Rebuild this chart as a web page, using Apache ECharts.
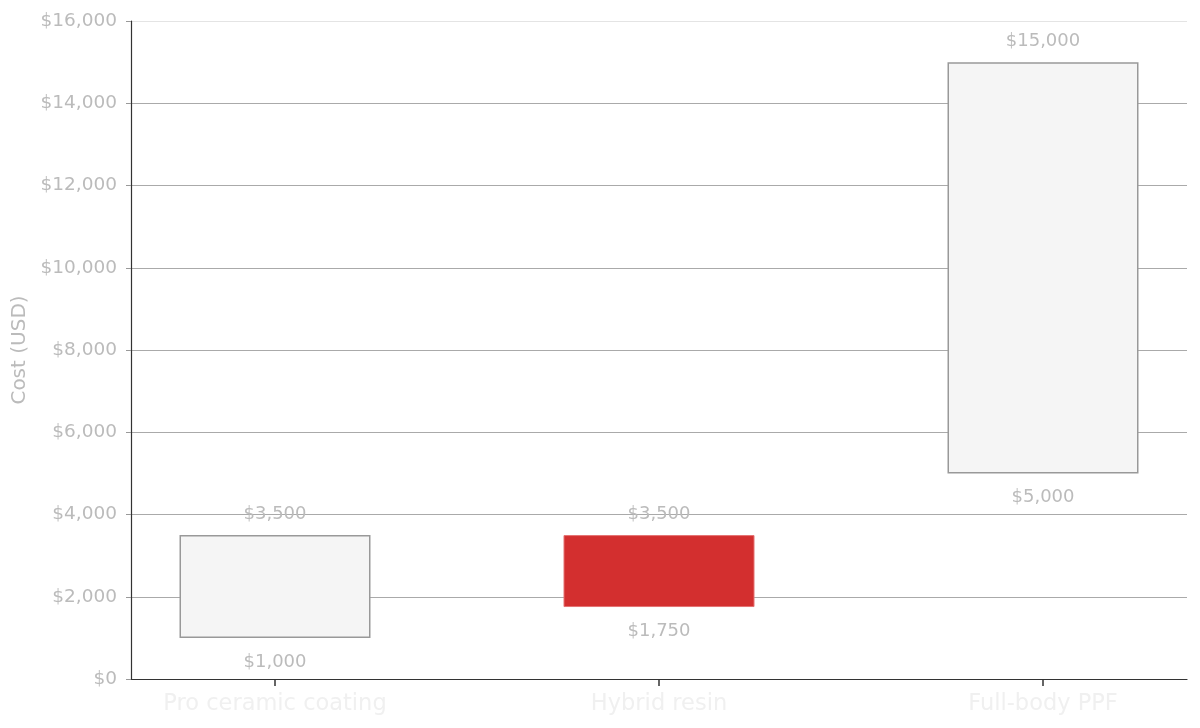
<!DOCTYPE html>
<html><head><meta charset="utf-8">
<script src="https://cdn.jsdelivr.net/npm/echarts@6/dist/echarts.min.js"></script>
<style>html,body{margin:0;padding:0;background:#fff}#c{width:1200px;height:728px}</style>
</head><body><div id="c"></div>
<script>
const categories = ['Pro ceramic coating', 'Hybrid resin', 'Full-body PPF'];
const lowValues = [1000, 1750, 5000];
const highValues = [3500, 3500, 15000];
const highlightIndex = 1;
const yTicks = [0, 2000, 4000, 6000, 8000, 10000, 12000, 14000, 16000];

// category slots: real categories sit at slot 1, 5, 9 of 11 (gives matplotlib-like side padding)
const slotOf = i => 1 + 4 * i;
const nSlots = 11;
const axisData = Array.from({ length: nSlots }, () => '');
categories.forEach((c, i) => { axisData[slotOf(i)] = c; });
const realSlots = categories.map((c, i) => slotOf(i));
const padded = arr => {
  const out = Array.from({ length: nSlots }, () => null);
  arr.forEach((v, i) => { out[slotOf(i)] = v; });
  return out;
};

const fmt = v => '$' + Number(v).toLocaleString('en-US');
const font = 'DejaVu Sans';
const gridColors = yTicks.map((t, i) => i === yTicks.length - 1 ? '#e4e4e4' : '#aaa');
const chart = echarts.init(document.getElementById('c'));
chart.setOption({
  animation: false,
  grid: { left: 131, right: 13, top: 21, bottom: 49 },
  xAxis: {
    type: 'category', data: axisData, boundaryGap: true,
    axisLine: { lineStyle: { color: '#333', width: 1.2 } },
    axisTick: { show: true, alignWithLabel: true, length: 7, customValues: realSlots, lineStyle: { color: '#333', width: 1.5 } },
    axisLabel: { color: '#f0f0f0', fontSize: 22.5, fontFamily: font, margin: 14, customValues: realSlots }
  },
  yAxis: {
    type: 'value', min: yTicks[0], max: yTicks[yTicks.length - 1], interval: 2000,
    name: 'Cost (USD)', nameLocation: 'middle', nameGap: 97,
    nameTextStyle: { color: '#bbb', fontSize: 20, fontFamily: font },
    axisLine: { show: true, lineStyle: { color: '#333', width: 1.2 } },
    axisTick: { show: true, length: 5, lineStyle: { color: '#999' } },
    axisLabel: { color: '#bbb', fontSize: 18.5, fontFamily: font, formatter: fmt, margin: 14 },
    splitLine: { lineStyle: { color: gridColors, width: 1 } }
  },
  series: [
    {
      type: 'bar', stack: 'r', barWidth: 191,
      data: padded(lowValues),
      itemStyle: { color: 'transparent' },
      label: {
        show: true, position: 'insideTop', distance: 15,
        formatter: p => fmt(p.value),
        color: '#bbb', fontSize: 18, fontFamily: font
      },
      silent: true
    },
    {
      type: 'bar', stack: 'r', barWidth: 191,
      data: padded(highValues.map((h, i) => ({
        value: h - lowValues[i],
        real: h,
        itemStyle: i === highlightIndex
          ? { color: '#d32f2f', borderColor: '#e57373', borderWidth: 1 }
          : { color: '#f5f5f5', borderColor: '#999', borderWidth: 1.5 }
      }))),
      label: {
        show: true, position: 'top', distance: 12,
        formatter: p => fmt(p.data.real),
        color: '#bbb', fontSize: 18, fontFamily: font
      }
    }
  ]
});
</script></body></html>
